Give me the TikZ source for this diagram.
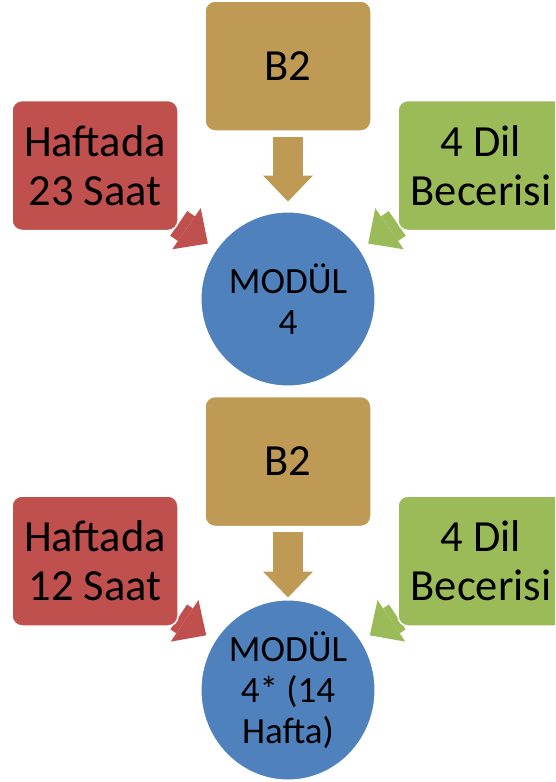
\documentclass[tikz,border=0pt]{standalone}
\usepackage{fontspec}
\setmainfont{Carlito}
\usetikzlibrary{arrows.meta,shapes.geometric,backgrounds}
\definecolor{tanfill}{HTML}{BE9A55}
\definecolor{redfill}{HTML}{C0504D}
\definecolor{greenfill}{HTML}{9BBB59}
\definecolor{bluefill}{HTML}{4F81BD}

\begin{document}
\begin{tikzpicture}[x=1pt,y=-1pt]
\tikzstyle{box} = [rectangle, rounded corners=10pt, minimum width=166pt, minimum height=130pt, draw=white, line width=1.5pt, inner sep=0pt, align=center, font=\fontsize{44.5pt}{49pt}\selectfont]
\tikzstyle{tanbox} = [box, fill=tanfill]
\tikzstyle{redbox} = [box, fill=redfill]
\tikzstyle{greenbox} = [box, fill=greenfill]
\tikzstyle{modul} = [ellipse, minimum width=174pt, minimum height=174pt, inner sep=0pt, fill=bluefill, draw=white, line width=1pt, align=center, font=\fontsize{37pt}{41pt}\selectfont]
\tikzstyle{fatarrow} = [line width=30pt, -{Triangle[length=26pt,width=50pt,line width=0pt]}]

\useasboundingbox (0,0) rectangle (555,782);
\clip (0,0) rectangle (555,782);

%nodes, upper part
\node (levA) [tanbox] at (288,66) {B2};
\node (hoursA) [redbox] at (95,165.5) {Haftada\\23 Saat};
\node (skillsA) [greenbox] at (481,165.5) {4 Dil\\Becerisi};
\node (modA) [modul] at (288,299) {MODÜL\\4};

%nodes, lower part
\node (levB) [tanbox] at (288,461.5) {B2};
\node (hoursB) [redbox] at (95,561) {Haftada\\12 Saat};
\node (skillsB) [greenbox] at (481,561) {4 Dil\\Becerisi};
\node (modB) [modul, minimum height=180pt] at (288,690) {MODÜL\\4* (14\\Hafta)};

%arrows
\begin{scope}[on background layer]
\draw [fatarrow, tanfill, shorten <=5pt, shorten >=10pt] (levA) -- (modA);
\draw [fatarrow, redfill, shorten >=10pt] (hoursA) -- (modA);
\draw [fatarrow, greenfill, shorten >=10pt] (skillsA) -- (modA);
\draw [fatarrow, tanfill, shorten <=5pt, shorten >=2pt] (levB) -- (modB);
\draw [fatarrow, redfill, shorten >=10pt] (hoursB) -- (modB);
\draw [fatarrow, greenfill, shorten >=10pt] (skillsB) -- (modB);
\end{scope}
\end{tikzpicture}
\end{document}
